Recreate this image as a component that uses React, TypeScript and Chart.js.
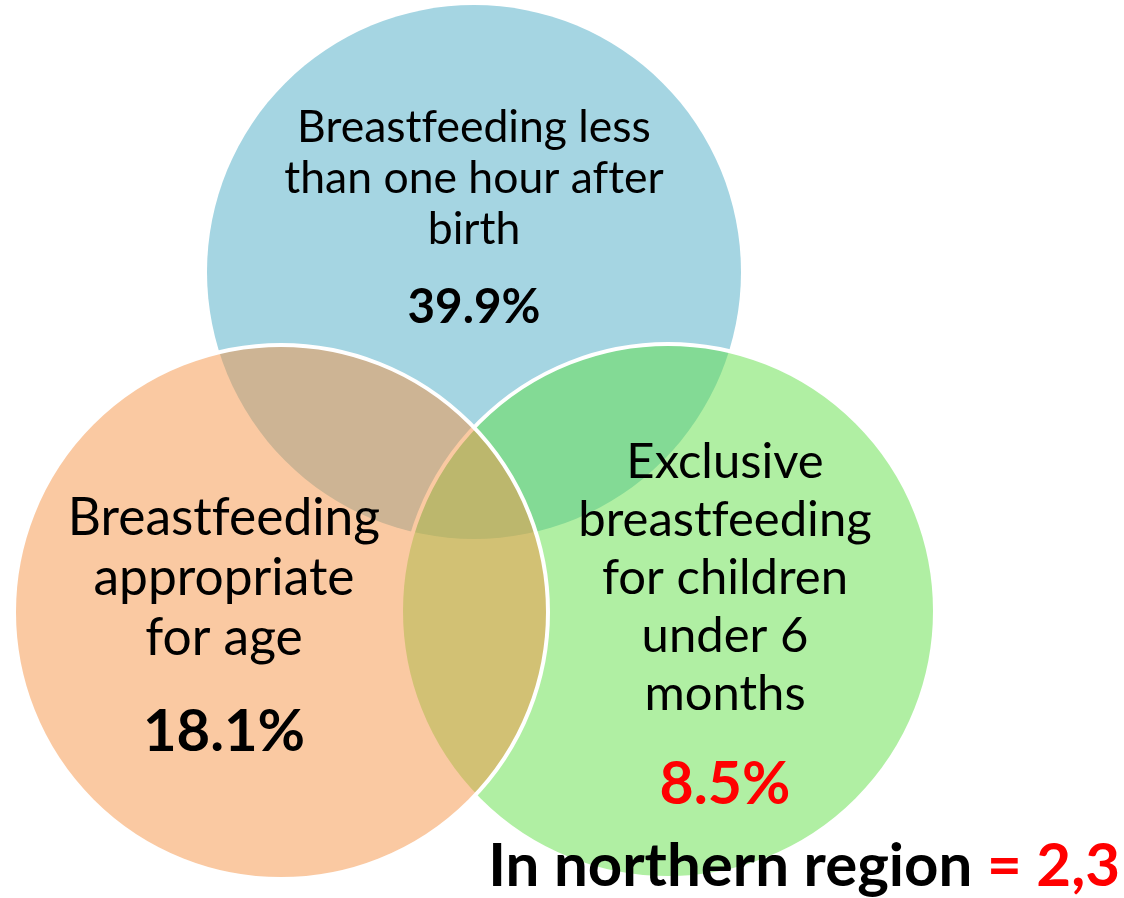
import React, { useEffect, useRef } from "react";
import { Chart, registerables } from "chart.js";

Chart.register(...registerables);

// ---- data ----
const setNames = [
  "Breastfeeding less than one hour after birth",
  "Breastfeeding appropriate for age",
  "Exclusive breastfeeding for children under 6 months",
];
const labelLines = [
  ["Breastfeeding less", "than one hour after", "birth"],
  ["Breastfeeding", "appropriate", "for age"],
  ["Exclusive", "breastfeeding", "for children", "under 6", "months"],
];
const percentValues = [39.9, 18.1, 8.5];
const northernLabel = "In northern region ";
const northernValue = "= 2,3";

// ---- layout (data units of the hidden scales) ----
const circleX = [474, 281, 668];
const circleY = [272, 612, 611];
const circleR = 267;
const circleFill = ["#A5D5E2", "rgba(245,147,69,0.5)", "rgba(97,223,71,0.5)"];
const circleBorder = [0, 4, 4];
const drawOrder = [3, 1, 2];

const textX = [474, 224, 725];
const textFirstY = [128, 518, 462];
const textGap = [51, 60, 58];
const textSize = [44.5, 51.5, 49];
const valueY = [308, 732, 785];
const valueSize = [47.5, 58, 59];
const valueColor = ["#000000", "#000000", "#FF0000"];

const FONT = "Lato, 'Open Sans', sans-serif";

const textPlugin = {
  id: "vennText",
  afterDatasetsDraw(chart: any) {
    const ctx = chart.ctx;
    const xs = chart.scales.x;
    const ys = chart.scales.y;
    ctx.save();
    try { (ctx as any).textRendering = "optimizeSpeed"; } catch (e) {}
    ctx.textAlign = "center";
    ctx.textBaseline = "middle";
    labelLines.forEach((lines, i) => {
      ctx.fillStyle = "#000";
      ctx.font = `${textSize[i]}px ${FONT}`;
      lines.forEach((ln, j) => {
        ctx.fillText(ln, xs.getPixelForValue(textX[i]), ys.getPixelForValue(textFirstY[i] + j * textGap[i]));
      });
      ctx.font = `bold ${valueSize[i]}px ${FONT}`;
      ctx.fillStyle = valueColor[i];
      ctx.fillText(`${percentValues[i]}%`, xs.getPixelForValue(textX[i]), ys.getPixelForValue(valueY[i]));
    });
    // bottom note
    ctx.font = `bold 60px ${FONT}`;
    ctx.textAlign = "left";
    const w1 = ctx.measureText(northernLabel).width;
    const w2 = ctx.measureText(northernValue).width;
    const right = xs.getPixelForValue(1120);
    const y = ys.getPixelForValue(867);
    ctx.fillStyle = "#000";
    ctx.fillText(northernLabel, right - w1 - w2, y);
    ctx.fillStyle = "#FF0000";
    ctx.fillText(northernValue, right - w2, y);
    ctx.restore();
  },
};

export default function App() {
  const ref = useRef<HTMLCanvasElement | null>(null);
  useEffect(() => {
    document.body.style.margin = "0";
    const radiusPx = (c: any) => {
      const s = c.chart.scales.x;
      return Math.abs(s.getPixelForValue(circleR) - s.getPixelForValue(0));
    };
    const chart = new Chart(ref.current as HTMLCanvasElement, {
      type: "scatter",
      data: {
        datasets: setNames.map((name, i) => ({
          label: name,
          data: [{ x: circleX[i], y: circleY[i] }],
          backgroundColor: circleFill[i],
          borderColor: "#FFFFFF",
          borderWidth: circleBorder[i],
          pointRadius: radiusPx,
          pointHoverRadius: radiusPx,
          order: drawOrder[i],
          clip: false,
        })),
      },
      options: {
        animation: false,
        responsive: false,
        maintainAspectRatio: false,
        events: [],
        layout: { padding: 0 },
        plugins: { legend: { display: false }, tooltip: { enabled: false }, title: { display: false } },
        scales: {
          x: { type: "linear", min: 0, max: 1124, display: false },
          y: { type: "linear", min: 0, max: 898, reverse: true, display: false },
        },
      },
      plugins: [textPlugin],
    } as any);
    return () => chart.destroy();
  }, []);
  return (
    <div style={{ width: 1124, height: 898, background: "#fff" }}>
      <canvas ref={ref} width={1124} height={898} style={{ display: "block" }} />
    </div>
  );
}
